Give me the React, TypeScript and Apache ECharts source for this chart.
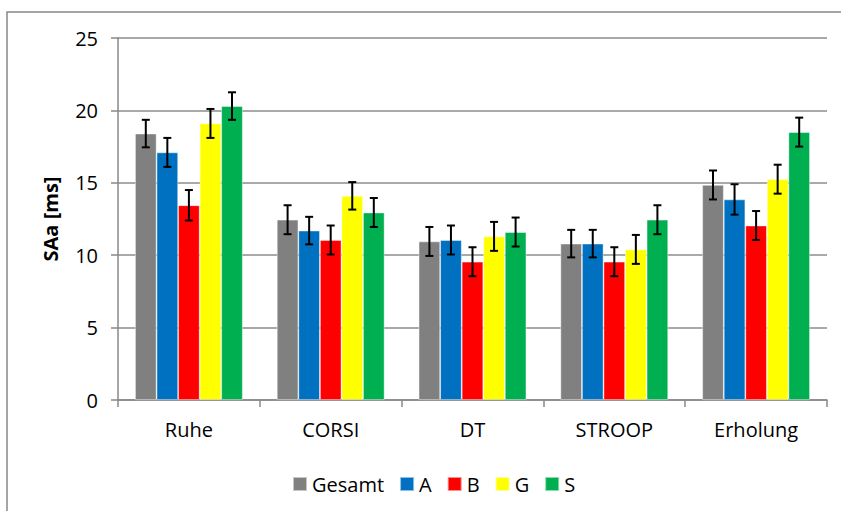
import React, { useEffect, useRef } from "react";
import * as echarts from "echarts";

const categories = ["Ruhe", "CORSI", "DT", "STROOP", "Erholung"];
const seriesNames = ["Gesamt", "A", "B", "G", "S"];
const seriesColors = ["#808080", "#0070C0", "#FF0000", "#FFFF00", "#00B050"];

const gesamtValues = [18.4, 12.45, 10.95, 10.8, 14.85];
const aValues = [17.1, 11.7, 11.05, 10.8, 13.85];
const bValues = [13.45, 11.05, 9.55, 9.55, 12.05];
const gValues = [19.1, 14.1, 11.3, 10.4, 15.25];
const sValues = [20.3, 12.95, 11.6, 12.45, 18.5];

const gesamtErr = [0.95, 1.0, 1.0, 0.95, 1.0];
const aErr = [1.0, 0.95, 1.0, 0.95, 1.05];
const bErr = [1.05, 1.0, 1.0, 1.0, 1.0];
const gErr = [1.0, 0.95, 1.0, 1.0, 1.0];
const sErr = [0.95, 1.0, 1.0, 1.0, 1.0];

const yTicks = { min: 0, max: 25, interval: 5 };

const allValues = [gesamtValues, aValues, bValues, gValues, sValues];
const allErrors = [gesamtErr, aErr, bErr, gErr, sErr];

const FONT = "Open Sans";
const GAP = 0.24;

export default function App() {
  const ref = useRef<HTMLDivElement>(null);

  useEffect(() => {
    if (!ref.current) return;
    const chart = echarts.init(ref.current, null, { renderer: "svg" });

    const barSeries = seriesNames.map((name, i) => ({
      name,
      type: "bar",
      data: allValues[i],
      barGap: "0%",
      barCategoryGap: GAP * 100 + "%",
      itemStyle: {
        color: seriesColors[i],
        borderColor: "rgba(255,255,255,0.55)",
        borderWidth: 0.8,
      },
      z: 2,
    }));

    const errSeries = seriesNames.map((name, si) => ({
      name: name + "_err",
      type: "custom",
      z: 5,
      encode: { x: 0, y: 1 },
      data: allValues[si].map((v, ci) => [ci, v, allErrors[si][ci]]),
      renderItem: (params: any, api: any) => {
        const ci = api.value(0);
        const v = api.value(1);
        const e = api.value(2);
        const catW = api.size([1, 0])[0];
        const bw = (catW * (1 - GAP)) / seriesNames.length;
        const cx = api.coord([ci, v])[0] + (si - (seriesNames.length - 1) / 2) * bw;
        const top = api.coord([ci, v + e])[1];
        const bot = api.coord([ci, v - e])[1];
        const cap = 4;
        const st = { stroke: "#000", lineWidth: 2 };
        return {
          type: "group",
          children: [
            { type: "line", shape: { x1: cx, y1: top, x2: cx, y2: bot }, style: st },
            { type: "line", shape: { x1: cx - cap, y1: top, x2: cx + cap, y2: top }, style: st },
            { type: "line", shape: { x1: cx - cap, y1: bot, x2: cx + cap, y2: bot }, style: st },
          ],
        };
      },
    }));

    chart.setOption({
      animation: false,
      backgroundColor: "#fff",
      textStyle: { fontFamily: FONT },
      graphic: [
        {
          type: "rect",
          shape: { x: 7, y: 12, width: 1000, height: 1000 },
          style: { fill: "none", stroke: "#888", lineWidth: 1.5 },
          silent: true,
        },
      ],
      grid: { left: 118, right: 14, top: 38, bottom: 111 },
      legend: {
        data: seriesNames,
        left: 287,
        top: 469,
        icon: "rect",
        itemWidth: 14,
        itemHeight: 14,
        itemGap: 15,
        textStyle: { fontFamily: FONT, fontSize: 20, color: "#000" },
      },
      xAxis: {
        type: "category",
        data: categories,
        axisLine: { lineStyle: { color: "#888", width: 1.5 } },
        axisTick: { show: true, length: 7, alignWithLabel: false, lineStyle: { color: "#888", width: 1.5 } },
        axisLabel: { fontFamily: FONT, fontSize: 20, color: "#000", margin: 19 },
      },
      yAxis: {
        type: "value",
        min: yTicks.min,
        max: yTicks.max,
        interval: yTicks.interval,
        name: "SAa [ms]",
        nameLocation: "middle",
        nameGap: 58,
        nameTextStyle: { fontFamily: FONT, fontSize: 20, fontWeight: "bold", color: "#000" },
        axisLine: { show: true, lineStyle: { color: "#888", width: 1.5 } },
        axisTick: { show: true, length: 7, lineStyle: { color: "#888", width: 1.5 } },
        axisLabel: { fontFamily: FONT, fontSize: 20, color: "#000", margin: 20 },
        splitLine: { lineStyle: { color: "#8c8c8c", width: 1.5 } },
      },
      series: [...barSeries, ...errSeries],
    });

    return () => chart.dispose();
  }, []);

  return (
    <div
      ref={ref}
      style={{ position: "fixed", left: 0, top: 0, width: 841, height: 511 }}
    />
  );
}
